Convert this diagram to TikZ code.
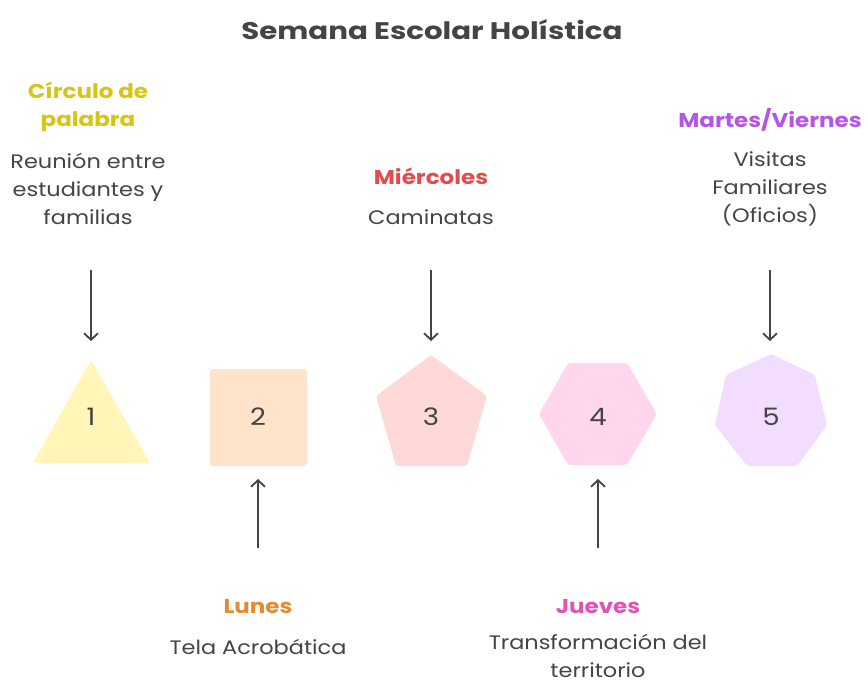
\documentclass[tikz,border=0pt]{standalone}
\usepackage{fontspec}
\setmainfont{Poppins}[FakeStretch=1.15]
\newfontfamily\titlefont{Poppins}[FakeStretch=1.22]
\usetikzlibrary{arrows.meta}
\definecolor{ink}{HTML}{444444}
\definecolor{cyel}{HTML}{D8C414}
\definecolor{corg}{HTML}{E48A30}
\definecolor{cred}{HTML}{E34C4E}
\definecolor{cpink}{HTML}{E052B4}
\definecolor{cpur}{HTML}{B455E6}
\definecolor{fyel}{HTML}{FFF6B8}
\definecolor{forg}{HTML}{FFE3CB}
\definecolor{fred}{HTML}{FFD8D8}
\definecolor{fpink}{HTML}{FFD6EE}
\definecolor{fpur}{HTML}{F3DDFF}
\tikzset{
  title/.style={text=ink,font=\titlefont\fontsize{24}{28}\selectfont\bfseries},
  head/.style={font=\fontsize{20}{28}\selectfont\bfseries,align=center},
  desc/.style={text=ink,font=\fontsize{19.5}{28}\selectfont,align=center},
  num/.style={text=ink,font=\fontsize{24}{28}\selectfont},
  shp/.style={rounded corners=3pt,draw=none},
  arr/.style={draw=ink,line width=1.8pt,-{Straight Barb[length=6.5pt,width=14pt,line width=1.8pt]}}
}
\begin{document}
\begin{tikzpicture}[x=1pt,y=-1pt]
\useasboundingbox (0,0) rectangle (868,683);
\fill[white] (0,0) rectangle (868,683);
\node[title] (ttl) at (432,30) {Semana Escolar Holística};
% top labels
\node[head,text=cyel] (h1) at (88,107) {Círculo de\\palabra};
\node[desc] (d1) at (88,189) {Reunión entre\\estudiantes y\\familias};
\node[head,text=cred] (h3) at (431,176) {Miércoles};
\node[desc] (d3) at (431,217) {Caminatas};
\node[head,text=cpur] (h5) at (770,120) {Martes/Viernes};
\node[desc] (d5) at (770,189) {Visitas\\Familiares\\(Oficios)};
% bottom labels
\node[head,text=corg] (h2) at (258,607) {Lunes};
\node[desc] (d2) at (258,647) {Tela Acrobática};
\node[head,text=cpink] (h4) at (598,607) {Jueves};
\node[desc] (d4) at (598,656) {Transformación del\\territorio};
% shapes
\fill[fyel,shp] (91,360) -- (150,463) -- (33,463) -- cycle;
\fill[forg,shp] (210,369) rectangle (307,466);
\fill[fred,shp] (431,355) -- (487,396) -- (467,466) -- (396,466) -- (376,396) -- cycle;
\fill[fpink,shp] (539,414) -- (568,363) -- (627,363) -- (657,414) -- (627,465) -- (568,465) -- cycle;
\fill[fpur,shp] (771,354) -- (815,375) -- (827,425) -- (797,466) -- (747,466) -- (715,425) -- (726,375) -- cycle;
\node[num] (n1) at (91,417) {1};
\node[num] (n2) at (258,417) {2};
\node[num] (n3) at (431,417) {3};
\node[num] (n4) at (598,417) {4};
\node[num] (n5) at (771,417) {5};
% arrows
\coordinate (a1) at (91,270); \coordinate (b1) at (91,341);
\coordinate (a3) at (431,270); \coordinate (b3) at (431,341);
\coordinate (a5) at (770,270); \coordinate (b5) at (770,341);
\coordinate (a2) at (258,548); \coordinate (b2) at (258,479);
\coordinate (a4) at (598,548); \coordinate (b4) at (598,479);
\draw[arr] (a1) -- (b1);
\draw[arr] (a3) -- (b3);
\draw[arr] (a5) -- (b5);
\draw[arr] (a2) -- (b2);
\draw[arr] (a4) -- (b4);
\end{tikzpicture}
\end{document}
